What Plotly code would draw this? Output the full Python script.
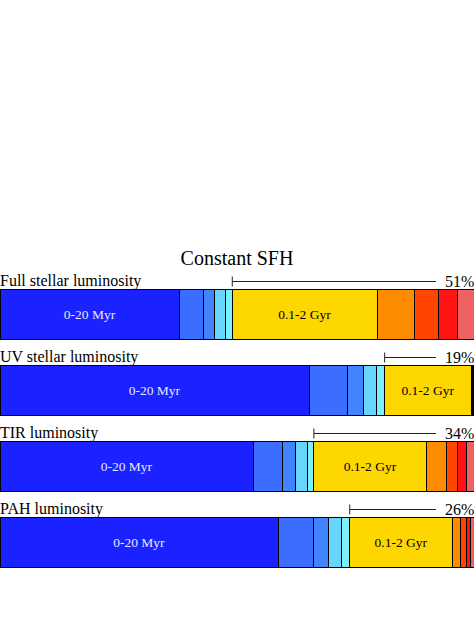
import plotly.graph_objects as go

# ---- data ----
tracers = ["Full stellar luminosity", "UV stellar luminosity", "TIR luminosity", "PAH luminosity"]
age_bins = ["0-20 Myr", "20-40 Myr", "40-60 Myr", "60-80 Myr", "80-100 Myr",
            "0.1-2 Gyr", "2-5 Gyr", "5-8 Gyr", "8-11 Gyr", "11-13.7 Gyr"]
bin_labels = ["0-20 Myr", "", "", "", "", "0.1-2 Gyr", "", "", "", ""]
full_vals = [37.8, 5.05, 2.4, 2.3, 1.35, 30.5, 7.9, 5.05, 4.05, 3.6]
uv_vals = [65.1, 8.15, 3.37, 2.74, 1.62, 18.2, 0.3, 0.2, 0.15, 0.15]
tir_vals = [53.3, 6.25, 2.74, 2.38, 1.41, 23.7, 4.15, 2.32, 1.96, 1.83]
pah_vals = [58.6, 7.45, 3.16, 2.65, 1.77, 21.6, 1.77, 1.12, 0.9, 0.99]
old_pct = [51, 19, 34, 26]
n_young = 5  # bins younger than 100 Myr

# ---- style ----
colors = ["#1a22ff", "#3b6eff", "#4284ff", "#66d6ff", "#7af0ff",
          "#ffd700", "#ff8c00", "#ff4500", "#ff1414", "#f06262"]
text_colors = ["#e8e8ff", "black", "black", "black", "black",
               "black", "black", "black", "black", "black"]
FONT = "Liberation Serif, Times New Roman, serif"
W, H = 474, 631
bar_w = 0.658
bracket_end = 91.8

series = [full_vals, uv_vals, tir_vals, pah_vals]
ypos = list(range(len(tracers)))

fig = go.Figure()
for j, b in enumerate(age_bins):
    fig.add_trace(go.Bar(
        orientation="h",
        y=ypos,
        x=[s[j] for s in series],
        name=b,
        width=bar_w,
        marker=dict(color=colors[j], line=dict(color="black", width=1)),
        text=[bin_labels[j]] * len(tracers),
        textposition="inside",
        insidetextanchor="middle",
        textangle=0,
        constraintext="none",
        textfont=dict(family=FONT, size=13.5, color=text_colors[j]),
        hoverinfo="skip",
    ))

off = 7.5 / 76
tick = 5 / 76
for i, name in enumerate(tracers):
    top = i - bar_w / 2
    fig.add_annotation(x=0, xref="paper", y=top, yref="y", text=name,
                       xanchor="left", yanchor="bottom", showarrow=False,
                       font=dict(family=FONT, size=16, color="black"), yshift=-3, xshift=-2)
    x0 = sum(series[i][:n_young])
    yl = top - off
    fig.add_shape(type="line", x0=x0, x1=bracket_end, y0=yl, y1=yl,
                  line=dict(color="#222", width=1))
    fig.add_shape(type="line", x0=x0, x1=x0, y0=yl - tick, y1=yl + tick,
                  line=dict(color="#222", width=1))
    fig.add_annotation(x=1, xref="paper", y=yl, yref="y", text=f"{old_pct[i]}%",
                       xanchor="right", yanchor="middle", showarrow=False,
                       font=dict(family=FONT, size=16, color="black"), xshift=2)

fig.update_layout(
    width=W, height=H,
    barmode="stack",
    showlegend=False,
    margin=dict(l=0, r=0, t=0, b=0),
    paper_bgcolor="white", plot_bgcolor="white",
    title=dict(text="Constant SFH", x=0.5, xanchor="center", y=1 - 258 / H, yanchor="middle",
               font=dict(family=FONT, size=20, color="black")),
    xaxis=dict(range=[0, 100 * W / 475], visible=False, fixedrange=True),
    yaxis=dict(range=[(H - 314) / 76, -314 / 76], visible=False, fixedrange=True),
)

fig.write_html("out.html", config={"displayModeBar": False},
               post_script="document.body.style.margin='0';document.body.style.overflow='hidden';")
